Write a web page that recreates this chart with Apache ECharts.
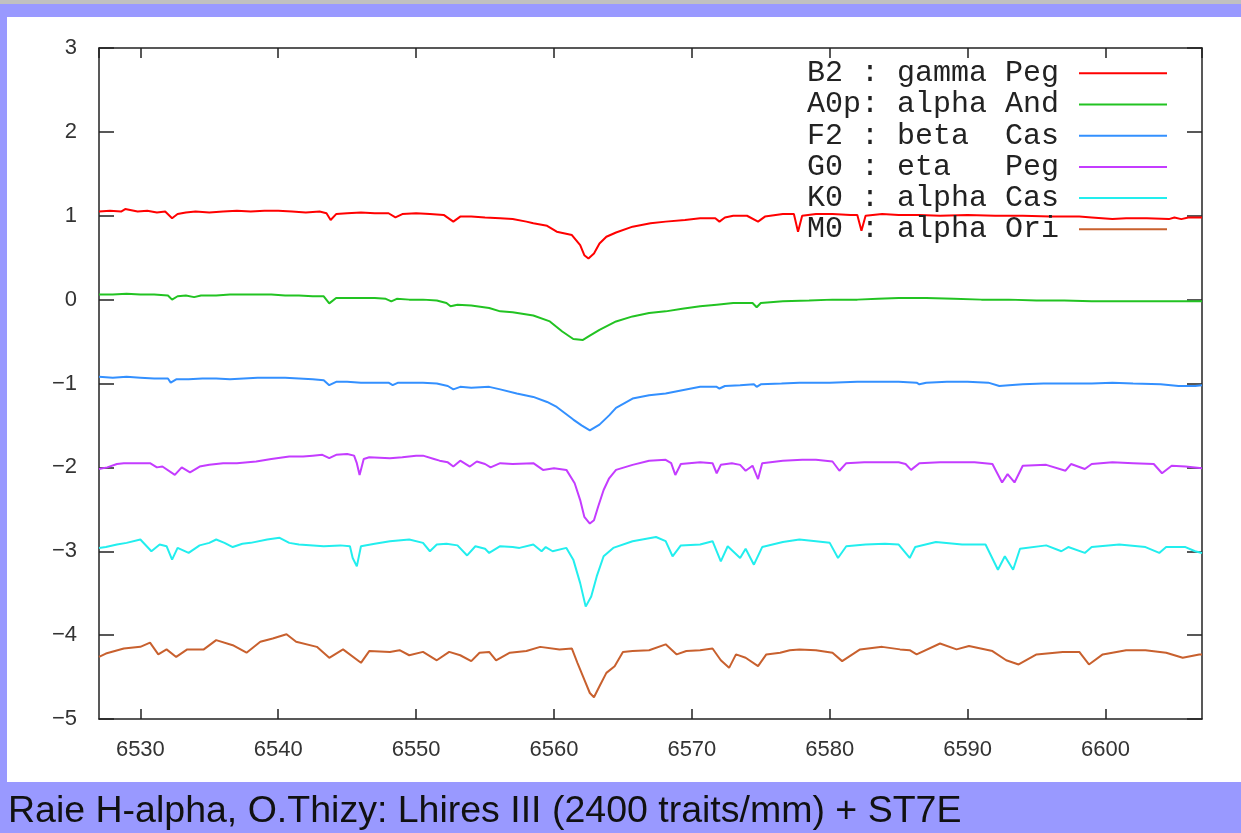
<!DOCTYPE html>
<html>
<head>
<meta charset="utf-8">
<script src="https://cdn.jsdelivr.net/npm/echarts@6/dist/echarts.min.js"></script>
<style>
html,body{margin:0;padding:0;background:#9999FF;}
#chart{width:1241px;height:833px;}
</style>
</head>
<body>
<div id="chart"></div>
<script>
// ---- data (wavelength in Angstrom, relative flux with offsets) ----
const seriesNames = ["B2 : gamma Peg", "A0p: alpha And", "F2 : beta  Cas", "G0 : eta   Peg", "K0 : alpha Cas", "M0 : alpha Ori"];
const seriesColors = ["#FF0000", "#22C322", "#3390FF", "#C43CFF", "#22EEEE", "#C8602E"];
const caption = "Raie H-alpha, O.Thizy: Lhires III (2400 traits/mm) + ST7E";
const yTicks = [-5, -4, -3, -2, -1, 0, 1, 2, 3];

const wlB2 = [6527.0,6527.8,6528.6,6528.9,6529.8,6530.5,6531.2,6531.8,6532.3,6532.7,6533.3,6534.0,6535.0,6536.0,6537.0,6538.0,6539.0,6540.0,6541.0,6542.0,6543.0,6543.5,6543.8,6544.2,6545.0,6546.0,6547.0,6548.0,6548.5,6549.0,6550.0,6551.0,6552.0,6552.7,6553.2,6554.0,6555.0,6556.1,6557.0,6558.0,6558.5,6559.5,6560.2,6561.3,6561.9,6562.2,6562.5,6562.9,6563.3,6563.8,6564.5,6565.7,6567.0,6568.1,6569.5,6570.6,6571.7,6572.0,6572.4,6573.0,6574.0,6574.8,6575.3,6576.6,6577.4,6577.7,6578.0,6579.0,6580.2,6581.5,6582.0,6582.3,6582.6,6583.8,6585.0,6586.5,6588.0,6590.0,6592.0,6594.0,6596.0,6598.1,6599.0,6600.5,6601.5,6603.0,6604.6,6605.0,6605.5,6606.0,6607.0];
const fluxB2 = [1.05,1.06,1.05,1.08,1.05,1.06,1.04,1.05,0.97,1.02,1.04,1.05,1.04,1.05,1.06,1.05,1.06,1.06,1.05,1.04,1.05,1.03,0.95,1.02,1.03,1.04,1.03,1.03,0.98,1.02,1.03,1.02,1.01,0.93,0.99,0.99,0.98,0.97,0.96,0.93,0.91,0.88,0.81,0.77,0.65,0.53,0.49,0.55,0.67,0.75,0.80,0.87,0.91,0.93,0.95,0.97,0.97,0.93,0.98,1.00,1.00,0.93,0.99,1.02,1.02,0.81,1.00,1.02,1.02,1.01,1.01,0.82,1.00,1.02,1.01,1.01,1.00,1.01,1.00,1.00,0.99,0.99,0.98,0.96,0.97,0.97,0.96,0.98,0.96,0.98,0.98];

const wlA0 = [6527.0,6528.0,6529.0,6530.0,6531.0,6532.0,6532.3,6532.7,6533.3,6533.9,6534.4,6535.5,6536.5,6537.5,6538.5,6539.5,6540.5,6541.5,6542.5,6543.3,6543.7,6544.2,6545.0,6546.0,6547.0,6547.8,6548.2,6548.6,6549.5,6550.5,6551.5,6552.2,6552.5,6553.0,6554.0,6555.3,6556.1,6557.0,6558.5,6559.7,6560.6,6561.4,6562.1,6562.6,6563.3,6564.5,6565.7,6566.9,6568.1,6569.3,6570.6,6571.8,6573.0,6574.4,6574.7,6575.0,6576.6,6578.5,6580.2,6582.0,6583.5,6585.0,6587.0,6589.0,6591.0,6593.0,6595.0,6597.0,6599.0,6601.0,6603.0,6605.0,6607.0];
const fluxA0 = [0.06,0.06,0.07,0.06,0.06,0.05,0.00,0.04,0.05,0.03,0.05,0.05,0.06,0.06,0.06,0.06,0.05,0.05,0.04,0.04,-0.045,0.02,0.02,0.02,0.02,0.01,-0.02,0.01,0.00,0.00,-0.01,-0.04,-0.08,-0.06,-0.07,-0.10,-0.14,-0.15,-0.19,-0.26,-0.38,-0.47,-0.48,-0.43,-0.36,-0.26,-0.20,-0.16,-0.14,-0.11,-0.08,-0.06,-0.04,-0.04,-0.09,-0.04,-0.02,-0.01,0.00,0.00,0.01,0.02,0.02,0.01,0.00,0.00,-0.01,-0.01,-0.02,-0.02,-0.02,-0.02,-0.02];

const wlF2 = [6527.0,6528.0,6529.0,6530.0,6531.0,6532.0,6532.2,6532.6,6533.5,6534.5,6535.5,6536.5,6537.5,6538.5,6539.5,6540.5,6541.5,6542.5,6543.3,6543.7,6544.2,6545.0,6546.0,6547.0,6548.0,6548.3,6548.7,6549.5,6550.5,6551.5,6552.3,6552.7,6553.2,6554.0,6555.3,6556.1,6557.3,6558.5,6559.5,6560.2,6561.4,6562.0,6562.6,6563.3,6564.0,6564.5,6565.7,6566.9,6568.1,6569.3,6570.6,6571.8,6572.0,6572.4,6573.5,6574.5,6574.7,6575.0,6576.5,6577.8,6580.0,6582.0,6585.0,6586.3,6586.5,6587.0,6588.5,6590.0,6591.5,6592.3,6593.0,6594.0,6595.5,6597.0,6599.0,6600.5,6602.0,6604.0,6605.3,6606.5,6607.0];
const fluxF2 = [-0.92,-0.93,-0.92,-0.93,-0.94,-0.94,-0.99,-0.95,-0.95,-0.94,-0.94,-0.95,-0.94,-0.93,-0.93,-0.93,-0.94,-0.95,-0.96,-1.02,-0.98,-0.98,-0.99,-0.99,-0.99,-1.02,-0.99,-0.99,-0.99,-1.00,-1.03,-1.07,-1.04,-1.05,-1.04,-1.07,-1.12,-1.16,-1.22,-1.28,-1.43,-1.50,-1.56,-1.49,-1.38,-1.29,-1.18,-1.14,-1.12,-1.08,-1.04,-1.04,-1.06,-1.03,-1.02,-1.01,-1.04,-1.01,-1.00,-0.99,-0.99,-0.98,-0.98,-0.99,-1.01,-0.99,-0.98,-0.98,-0.99,-1.03,-1.02,-1.01,-1.00,-1.00,-1.00,-0.99,-1.00,-1.01,-1.03,-1.03,-1.02];

const wlG0 = [6527.0,6527.6,6528.3,6528.8,6529.5,6530.3,6530.7,6531.2,6531.6,6532.5,6533.0,6533.3,6533.6,6534.0,6534.3,6535.0,6536.0,6537.0,6538.4,6539.5,6540.8,6541.8,6542.5,6543.2,6543.7,6544.2,6545.0,6545.5,6545.7,6545.9,6546.2,6546.6,6548.1,6549.0,6550.0,6550.5,6551.3,6551.7,6552.3,6552.7,6553.2,6553.9,6554.4,6555.0,6555.4,6556.1,6557.0,6558.5,6559.2,6560.0,6560.9,6561.5,6561.9,6562.2,6562.6,6562.9,6563.2,6563.6,6564.0,6564.5,6565.7,6566.9,6568.1,6568.5,6568.8,6569.2,6570.6,6571.5,6571.8,6572.1,6572.9,6573.5,6573.9,6574.4,6574.8,6575.1,6576.6,6578.0,6579.0,6580.2,6580.7,6581.2,6582.5,6583.8,6585.0,6585.5,6585.9,6586.5,6588.0,6590.5,6591.8,6592.5,6592.9,6593.4,6594.0,6595.7,6597.1,6597.5,6598.5,6599.0,6600.5,6602.0,6603.5,6604.1,6604.8,6605.8,6607.0];
const fluxG0 = [-2.02,-2.00,-1.96,-1.95,-1.95,-1.95,-1.95,-2.00,-1.99,-2.09,-2.00,-2.03,-2.06,-2.02,-1.99,-1.97,-1.95,-1.95,-1.93,-1.90,-1.87,-1.87,-1.86,-1.85,-1.89,-1.85,-1.84,-1.86,-1.95,-2.09,-1.90,-1.88,-1.89,-1.88,-1.86,-1.86,-1.90,-1.92,-1.94,-1.99,-1.92,-1.99,-1.93,-1.96,-2.00,-1.95,-1.96,-1.95,-2.03,-2.01,-2.03,-2.19,-2.39,-2.59,-2.67,-2.63,-2.47,-2.27,-2.13,-2.03,-1.97,-1.92,-1.91,-1.95,-2.09,-1.96,-1.94,-1.95,-2.07,-1.97,-1.95,-1.97,-2.04,-1.98,-2.14,-1.95,-1.92,-1.91,-1.91,-1.93,-2.04,-1.95,-1.94,-1.94,-1.94,-1.96,-2.03,-1.95,-1.94,-1.94,-1.96,-2.18,-2.08,-2.18,-1.98,-1.97,-2.04,-1.96,-2.02,-1.96,-1.94,-1.95,-1.96,-2.07,-1.98,-1.99,-2.01];

const wlK0 = [6527.0,6527.5,6528.3,6529.0,6530.0,6530.8,6531.4,6531.9,6532.3,6532.7,6533.5,6534.3,6535.0,6535.5,6536.1,6536.7,6537.4,6538.0,6539.2,6540.1,6540.8,6541.5,6543.3,6544.5,6545.2,6545.4,6545.7,6546.0,6547.0,6548.1,6549.5,6550.5,6551.0,6551.5,6552.2,6553.0,6553.7,6554.3,6555.0,6555.3,6556.1,6557.0,6557.5,6558.5,6559.1,6559.4,6559.9,6560.9,6561.4,6561.9,6562.3,6562.7,6563.1,6563.6,6564.3,6565.7,6567.4,6568.1,6568.6,6569.2,6570.6,6571.5,6572.1,6572.6,6573.5,6573.9,6574.5,6575.1,6576.6,6577.8,6579.0,6580.0,6580.6,6581.2,6582.6,6584.0,6585.0,6585.8,6586.2,6587.7,6589.6,6591.3,6592.2,6592.7,6593.3,6593.8,6595.7,6596.8,6597.3,6598.5,6599.0,6601.0,6602.9,6603.9,6604.4,6605.8,6606.5,6607.0];
const fluxK0 = [-2.96,-2.95,-2.92,-2.90,-2.86,-3.00,-2.92,-2.94,-3.10,-2.96,-3.02,-2.93,-2.90,-2.86,-2.90,-2.95,-2.91,-2.90,-2.86,-2.84,-2.90,-2.92,-2.94,-2.93,-2.94,-3.08,-3.18,-2.94,-2.91,-2.88,-2.86,-2.90,-3.00,-2.92,-2.91,-2.93,-3.05,-2.94,-2.97,-3.02,-2.94,-2.95,-2.96,-2.92,-3.00,-2.95,-3.00,-2.96,-3.10,-3.38,-3.66,-3.54,-3.30,-3.06,-2.96,-2.88,-2.83,-2.88,-3.06,-2.93,-2.92,-2.88,-3.12,-2.94,-3.08,-2.97,-3.16,-2.95,-2.89,-2.86,-2.88,-2.90,-3.08,-2.94,-2.92,-2.91,-2.92,-3.08,-2.95,-2.89,-2.92,-2.92,-3.22,-3.06,-3.22,-2.97,-2.93,-3.00,-2.95,-3.02,-2.95,-2.92,-2.95,-3.02,-2.95,-2.95,-3.00,-3.02];

const wlM0 = [6527.0,6527.5,6528.8,6530.0,6530.7,6531.3,6531.9,6532.6,6533.4,6534.6,6535.5,6536.7,6537.7,6538.7,6539.6,6540.6,6541.3,6542.8,6543.7,6544.7,6546.0,6546.6,6548.1,6548.8,6549.5,6550.5,6551.5,6552.4,6553.2,6554.0,6554.6,6555.3,6555.8,6556.8,6558.0,6559.0,6560.4,6561.3,6561.7,6562.2,6562.6,6562.9,6563.3,6563.8,6564.4,6565.0,6565.7,6566.9,6568.1,6568.9,6569.6,6570.6,6571.5,6572.1,6572.7,6573.2,6573.9,6574.8,6575.4,6576.4,6577.1,6577.8,6579.0,6580.2,6580.9,6582.2,6583.8,6585.1,6585.8,6586.3,6588.0,6589.2,6590.1,6591.8,6592.8,6593.7,6595.0,6596.9,6598.1,6598.8,6599.8,6601.5,6602.9,6604.4,6605.6,6606.8,6607.0];
const fluxM0 = [-4.26,-4.22,-4.16,-4.14,-4.09,-4.23,-4.17,-4.26,-4.17,-4.17,-4.06,-4.12,-4.21,-4.08,-4.04,-3.99,-4.08,-4.14,-4.27,-4.17,-4.33,-4.19,-4.20,-4.18,-4.24,-4.20,-4.30,-4.20,-4.24,-4.31,-4.21,-4.20,-4.30,-4.21,-4.19,-4.14,-4.17,-4.16,-4.33,-4.53,-4.69,-4.74,-4.61,-4.45,-4.37,-4.20,-4.19,-4.18,-4.11,-4.23,-4.19,-4.18,-4.16,-4.30,-4.39,-4.23,-4.27,-4.37,-4.23,-4.21,-4.18,-4.17,-4.18,-4.21,-4.31,-4.17,-4.14,-4.17,-4.18,-4.23,-4.10,-4.17,-4.13,-4.19,-4.30,-4.35,-4.23,-4.20,-4.20,-4.35,-4.23,-4.18,-4.18,-4.21,-4.27,-4.23,-4.23];

const wlList = [wlB2, wlA0, wlF2, wlG0, wlK0, wlM0];
const fluxList = [fluxB2, fluxA0, fluxF2, fluxG0, fluxK0, fluxM0];

// ---- chart ----
const chart = echarts.init(document.getElementById('chart'), null, {renderer: 'canvas'});
const axisColor = '#222';
const labelFont = {fontFamily: 'Liberation Sans', fontSize: 22, color: '#333'};

const series = seriesNames.map((name, i) => ({
  name: name,
  type: 'line',
  xAxisIndex: 0,
  yAxisIndex: 0,
  symbol: 'none',
  showSymbol: false,
  lineStyle: {width: 2, color: seriesColors[i]},
  itemStyle: {color: seriesColors[i]},
  data: wlList[i].map((w, j) => [w, fluxList[i][j]]),
  z: 3
}));

const xCommon = {
  type: 'value', min: 6527, max: 6607, splitNumber: 8,
  splitLine: {show: false},
  axisLine: {show: true, onZero: false, lineStyle: {color: axisColor, width: 1.5}},
  axisTick: {show: true, inside: true, length: 10, lineStyle: {color: axisColor, width: 1.5}}
};
const yCommon = {
  type: 'value', min: -5, max: 3, interval: 1,
  splitLine: {show: false},
  axisLine: {show: true, onZero: false, lineStyle: {color: axisColor, width: 1.5}},
  axisTick: {show: true, inside: true, length: 15, lineStyle: {color: axisColor, width: 1.5}}
};

chart.setOption({
  animation: false,
  backgroundColor: '#9999FF',
  graphic: [
    {type: 'rect', silent: true, z: -100, shape: {x: 0, y: 0, width: 1241, height: 4}, style: {fill: '#C0C0C0'}},
    {type: 'rect', silent: true, z: -100, shape: {x: 7, y: 17, width: 1234, height: 765}, style: {fill: '#FFFFFF'}},
    {type: 'text', silent: true, z: 100, x: 8, y: 812,
     style: {text: caption, font: '37.5px "Liberation Sans", Arial, sans-serif', fill: '#111', verticalAlign: 'middle', align: 'left'}}
  ],
  grid: {left: 99, top: 48, right: 39, bottom: 114, containLabel: false},
  legend: {
    data: seriesNames,
    orient: 'vertical',
    right: 74, top: 58, padding: 0,
    align: 'right',
    icon: 'rect',
    itemWidth: 88, itemHeight: 2, itemGap: 0.6,
    selectedMode: false,
    textStyle: {fontFamily: 'Liberation Mono', fontSize: 30, color: '#222', lineHeight: 30.6, padding: [0, 15, 0, 0]}
  },
  xAxis: [
    Object.assign({}, xCommon, {position: 'bottom',
      axisLabel: Object.assign({show: true, margin: 20, showMinLabel: false, showMaxLabel: false,
        formatter: v => String(v)}, labelFont)}),
    Object.assign({}, xCommon, {position: 'top', axisLabel: {show: false}})
  ],
  yAxis: [
    Object.assign({}, yCommon, {position: 'left',
      axisLabel: Object.assign({show: true, margin: 22,
        formatter: v => (v < 0 ? '\u2212' + Math.abs(v) : String(v))}, labelFont)}),
    Object.assign({}, yCommon, {position: 'right', axisLabel: {show: false}})
  ],
  series: series
});
</script>
</body>
</html>
